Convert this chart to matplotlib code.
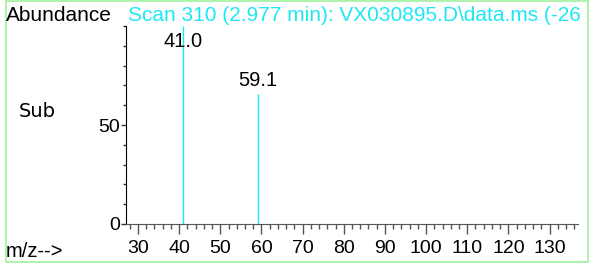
import matplotlib.pyplot as plt
from matplotlib.ticker import MultipleLocator
from matplotlib.patches import Rectangle

# spectrum peaks (m/z, relative abundance)
mz = [41.0, 59.1]
abundance = [100.0, 65.6]
peak_labels = ['41.0', '59.1']

title = 'Scan 310 (2.977 min): VX030895.D\\data.ms (-26'
cyan = '#1ee8f4'
font = 'Liberation Sans'

fig = plt.figure(figsize=(5.9, 2.64), dpi=100)
ax = fig.add_axes([126/590, 40/264, (578-126)/590, (224-26)/264])

ax.vlines(mz, 0, abundance, color=cyan, lw=1.0)
for x, y, lab in zip(mz, abundance, peak_labels):
    if y >= 95:
        ax.text(x, 97, lab, ha='center', va='top', fontsize=14.5, family=font)
    else:
        ax.text(x, y + 2, lab, ha='center', va='bottom', fontsize=14.5, family=font)

ax.set_xlim(27.1, 136.9)
ax.set_ylim(0, 100)

for s in ['top', 'right']:
    ax.spines[s].set_visible(False)
ax.spines['left'].set_color('black')
ax.spines['bottom'].set_color('#555555')

ax.xaxis.set_major_locator(MultipleLocator(10))
ax.xaxis.set_minor_locator(MultipleLocator(2))
ax.yaxis.set_major_locator(MultipleLocator(50))
ax.yaxis.set_minor_locator(MultipleLocator(10))
ax.set_yticks([0, 50])

ax.tick_params(axis='x', which='major', length=7.5, width=1, color='#555555',
               labelsize=14, pad=4)
ax.tick_params(axis='x', which='minor', length=3.6, width=1, color='#555555')
ax.tick_params(axis='y', which='major', length=3.5, width=1, color='#333333',
               labelsize=14, pad=1)
ax.tick_params(axis='y', which='minor', length=2, width=1, color='#333333')
for t in ax.get_xticklabels() + ax.get_yticklabels():
    t.set_family(font)

fig.text(6/590, 1 - 21/264, 'Abundance', fontsize=15, family=font, va='baseline')
fig.text(128/590, 1 - 21/264, title, fontsize=15, family=font, color=cyan, va='baseline')
fig.text(19/590, 1 - 117/264, 'Sub', fontsize=14, family='DejaVu Sans', va='baseline')
fig.text(6/590, 7/264, 'm/z-->', fontsize=14.5, family=font, va='baseline')

# light green frame
fig.patches.append(Rectangle((6/590, 2/264), (588-6)/590, (264-2.6)/264,
                             transform=fig.transFigure, fill=False,
                             edgecolor='#9ef09e', lw=1.2))

fig.savefig('out.png', dpi=100)
